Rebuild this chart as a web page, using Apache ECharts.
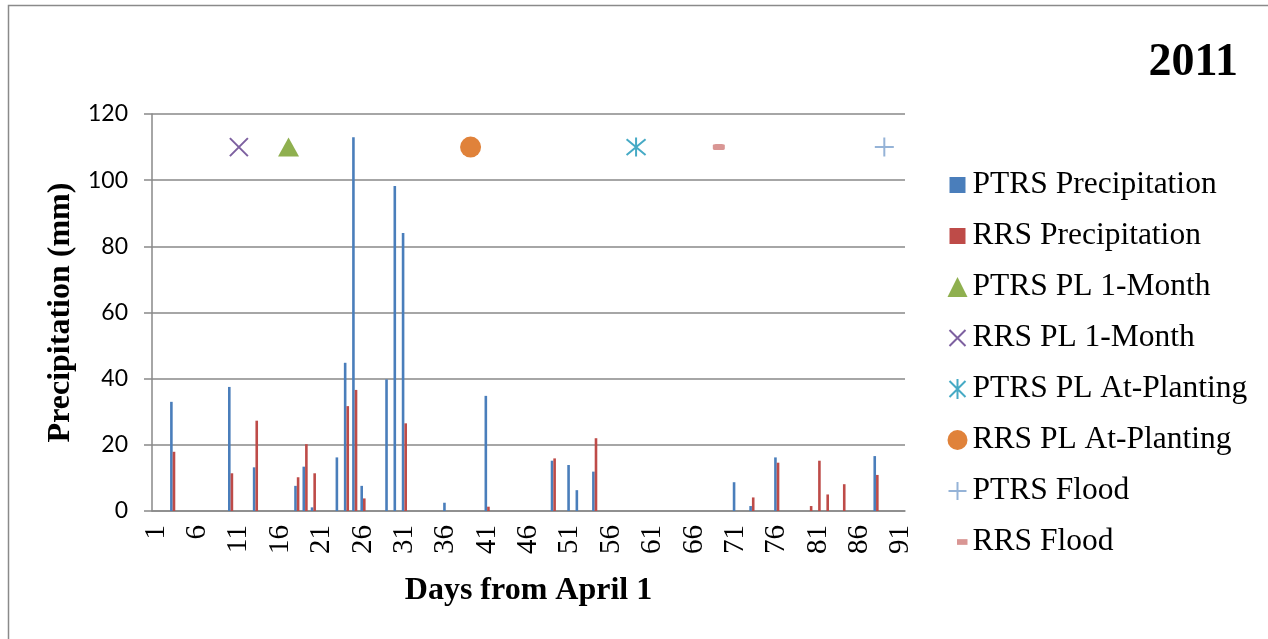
<!DOCTYPE html>
<html>
<head>
<meta charset="utf-8">
<title>2011 precipitation</title>
<script src="https://cdn.jsdelivr.net/npm/echarts@6/dist/echarts.min.js"></script>
<style>
  html, body { margin: 0; padding: 0; background: #fff; }
  #chart { width: 1268px; height: 639px; }
</style>
</head>
<body>
<div id="chart"></div>
<script>
// days from April 1 (category axis)
const dayCount = 91;
const days = [];
for (let d = 1; d <= dayCount; d++) days.push(String(d));

// rainy days and amounts (mm)
const ptrsRainDays = [3, 10, 13, 18, 19, 20, 23, 24, 25, 26, 29, 30, 31, 36, 41, 49, 51, 52, 54, 71, 73, 76, 88];
const ptrsRain = [33, 37.5, 13.2, 7.6, 13.4, 1.1, 16.2, 44.8, 113, 7.6, 39.8, 98.2, 84, 2.5, 34.8, 15.2, 13.9, 6.3, 11.9, 8.7, 1.5, 16.2, 16.6];
const rrsRainDays = [3, 10, 13, 18, 19, 20, 24, 25, 26, 31, 41, 49, 54, 73, 76, 80, 81, 82, 84, 88];
const rrsRain = [17.9, 11.4, 27.3, 10.2, 20.2, 11.4, 31.7, 36.6, 3.8, 26.5, 1.3, 15.9, 22, 4.1, 14.6, 1.5, 15.2, 5, 8.1, 10.9];

// event markers, all drawn at 110 mm
const markerLevel = 110;
const ptrsPl1Month = 17;
const rrsPl1Month = 11;
const ptrsPlAtPlanting = 59;
const rrsPlAtPlanting = 39;
const ptrsFlood = 89;
const rrsFlood = 69;

const yTicks = [0, 20, 40, 60, 80, 100, 120];

const fillDays = (rainDays, amounts) => {
  const out = days.map(() => 0);
  rainDays.forEach((d, i) => { out[d - 1] = amounts[i]; });
  return out;
};
const mark = (day) => [[String(day), markerLevel]];

const serif = '"Liberation Serif", "Times New Roman", serif';
const gridGray = '#898989';
const colors = {
  ptrs: '#4A7EBB',
  rrs: '#BE4B48',
  tri: '#8FB04F',
  cross: '#7D60A0',
  star: '#46AAC5',
  dot: '#E0823A',
  plus: '#95B3D7',
  dash: '#D99694'
};

const crossPath = 'path://M0,0L10,10M10,0L0,10';
const starPath = 'path://M0,0L10,10M10,0L0,10M5,-1L5,11';
const plusPath = 'path://M5,0L5,10M0,5L10,5';

const chart = echarts.init(document.getElementById('chart'), null, { renderer: 'canvas' });
chart.setOption({
  animation: false,
  backgroundColor: '#fff',
  title: {
    text: '2011',
    right: 25,
    top: 35,
    textStyle: { fontFamily: serif, fontSize: 46, fontWeight: 'bold', color: '#000' }
  },
  graphic: [{
    type: 'rect',
    silent: true,
    shape: { x: 8.5, y: 5.5, width: 1300, height: 700 },
    style: { fill: 'none', stroke: '#8a8a8a', lineWidth: 1.5 }
  }],
  legend: {
    orient: 'vertical',
    left: 945,
    top: 169,
    padding: 0,
    itemWidth: 20,
    itemHeight: 20,
    itemGap: 19,
    textStyle: { fontFamily: serif, fontSize: 31.5, color: '#000', lineHeight: 31 },
    data: [
      { name: 'PTRS Precipitation', icon: 'path://M0,0M20,20M2,2L18,2L18,18L2,18Z' },
      { name: 'RRS Precipitation', icon: 'path://M0,0M20,20M2,2L18,2L18,18L2,18Z' },
      { name: 'PTRS PL 1-Month', icon: 'triangle' },
      { name: 'RRS PL 1-Month', icon: 'path://M0,0M20,20M2,2L18,18M18,2L2,18',
        itemStyle: { color: 'none', borderColor: colors.cross, borderWidth: 2 } },
      { name: 'PTRS PL At-Planting', icon: 'path://M0,0M20,20M2,2L18,18M18,2L2,18M10,0L10,20',
        itemStyle: { color: 'none', borderColor: colors.star, borderWidth: 2 } },
      { name: 'RRS PL At-Planting', icon: 'circle' },
      { name: 'PTRS Flood', icon: 'path://M0,0M20,20M10,1L10,19M1,10L19,10',
        itemStyle: { color: 'none', borderColor: colors.plus, borderWidth: 2 } },
      { name: 'RRS Flood', icon: 'path://M0,0M20,20M10,7L21,7L21,13L10,13Z' }
    ]
  },
  grid: { left: 152, right: 363, top: 114, bottom: 128, containLabel: false },
  xAxis: {
    type: 'category',
    data: days,
    boundaryGap: true,
    name: 'Days from April 1',
    nameLocation: 'middle',
    nameGap: 64,
    nameTextStyle: { fontFamily: serif, fontSize: 32, fontWeight: 'bold', color: '#000' },
    axisLine: { lineStyle: { color: gridGray, width: 1.5 } },
    axisTick: { show: false },
    axisLabel: {
      interval: 4,
      rotate: 90,
      margin: 14,
      fontFamily: serif,
      fontSize: 29,
      color: '#000'
    },
    splitLine: { show: false }
  },
  yAxis: {
    type: 'value',
    min: yTicks[0],
    max: yTicks[yTicks.length - 1],
    interval: 20,
    name: 'Precipitation (mm)',
    nameLocation: 'middle',
    nameGap: 72,
    nameTextStyle: { fontFamily: serif, fontSize: 32, fontWeight: 'bold', color: '#000' },
    axisLine: { show: true, lineStyle: { color: gridGray, width: 1.5 } },
    axisTick: { show: true, length: 8, lineStyle: { color: gridGray, width: 1.5 } },
    axisLabel: { margin: 24, fontFamily: 'Lato, "Open Sans", sans-serif', fontSize: 23, color: '#000' },
    splitLine: { lineStyle: { color: gridGray, width: 1.5 } }
  },
  series: [
    {
      name: 'PTRS Precipitation',
      type: 'bar',
      data: fillDays(ptrsRainDays, ptrsRain),
      barWidth: 2.6,
      barGap: '0%',
      itemStyle: { color: colors.ptrs }
    },
    {
      name: 'RRS Precipitation',
      type: 'bar',
      data: fillDays(rrsRainDays, rrsRain),
      barWidth: 2.6,
      barGap: '0%',
      itemStyle: { color: colors.rrs }
    },
    {
      name: 'PTRS PL 1-Month',
      type: 'scatter',
      data: mark(ptrsPl1Month),
      symbol: 'triangle',
      symbolSize: [21, 19],
      itemStyle: { color: colors.tri, opacity: 1 }
    },
    {
      name: 'RRS PL 1-Month',
      type: 'scatter',
      data: mark(rrsPl1Month),
      symbol: crossPath,
      symbolSize: 18,
      itemStyle: { color: 'none', borderColor: colors.cross, borderWidth: 2, opacity: 1 }
    },
    {
      name: 'PTRS PL At-Planting',
      type: 'scatter',
      data: mark(ptrsPlAtPlanting),
      symbol: starPath,
      symbolSize: 19,
      itemStyle: { color: 'none', borderColor: colors.star, borderWidth: 2, opacity: 1 }
    },
    {
      name: 'RRS PL At-Planting',
      type: 'scatter',
      data: mark(rrsPlAtPlanting),
      symbol: 'circle',
      symbolSize: 21,
      itemStyle: { color: colors.dot, opacity: 1 }
    },
    {
      name: 'PTRS Flood',
      type: 'scatter',
      data: mark(ptrsFlood),
      symbol: plusPath,
      symbolSize: 19,
      itemStyle: { color: 'none', borderColor: colors.plus, borderWidth: 2, opacity: 1 }
    },
    {
      name: 'RRS Flood',
      type: 'scatter',
      data: mark(rrsFlood),
      symbol: 'roundRect',
      symbolSize: [12, 6],
      itemStyle: { color: colors.dash, opacity: 1 }
    }
  ]
});
</script>
</body>
</html>
